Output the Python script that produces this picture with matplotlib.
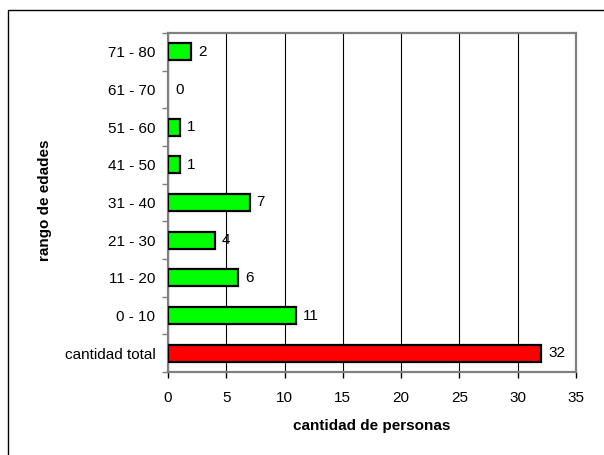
import matplotlib.pyplot as plt
from matplotlib.patches import Rectangle

plt.rcParams["font.family"] = ["Liberation Sans", "DejaVu Sans"]

categories = ["cantidad total", "0 - 10", "11 - 20", "21 - 30", "31 - 40",
              "41 - 50", "51 - 60", "61 - 70", "71 - 80"]
counts = [32, 11, 6, 4, 7, 1, 1, 0, 2]
bar_colors = ["#ff0000"] + ["#00ff00"] * 8

W, H = 604, 455
FS = 11
fig = plt.figure(figsize=(W / 100, H / 100), dpi=100)
fig.patch.set_facecolor("white")

# outer chart frame (right/bottom edges fall outside the image)
fig.add_artist(Rectangle((8 / W, -0.05), 1.2, 1.05 - 10.5 / H,
                         transform=fig.transFigure, fill=False,
                         edgecolor="black", linewidth=1.0))

ax = fig.add_axes([168 / W, 1 - 372 / H, 408 / W, 339 / H])
y = list(range(len(categories)))
edge_widths = [1.6 if v > 0 else 0 for v in counts]
ax.barh(y, counts, height=0.45, color=bar_colors, edgecolor="black",
        linewidth=edge_widths, zorder=3)

for yi, val in zip(y, counts):
    ax.annotate(str(val), (val, yi), xytext=(5, 0), textcoords="offset points",
                va="center", ha="left", fontsize=FS, zorder=4)

ax.set_xlim(0, 35)
ax.set_ylim(-0.5, len(categories) - 0.5)
ax.set_xticks(range(0, 36, 5))
ax.set_yticks(y)
ax.set_yticklabels(categories)
ax.set_yticks([i - 0.5 for i in range(len(categories) + 1)], minor=True)
ax.tick_params(axis="y", which="major", length=0, pad=9, labelsize=FS)
ax.tick_params(axis="y", which="minor", length=4, width=1, color="#808080")
ax.tick_params(axis="x", length=4, width=1, color="black", labelsize=FS, pad=10)

ax.grid(axis="x", color="black", linewidth=0.8, zorder=0)
for side in ["top", "right", "left", "bottom"]:
    ax.spines[side].set_color("#808080")
    ax.spines[side].set_linewidth(1.6)

ax.set_xlabel("cantidad de personas", fontsize=FS, fontweight="bold", labelpad=10)
fig.text(45 / W, 1 - 200 / H, "rango de edades", rotation=90, fontsize=FS,
         fontweight="bold", ha="center", va="center")

fig.savefig("out.png", dpi=100, facecolor="white")
